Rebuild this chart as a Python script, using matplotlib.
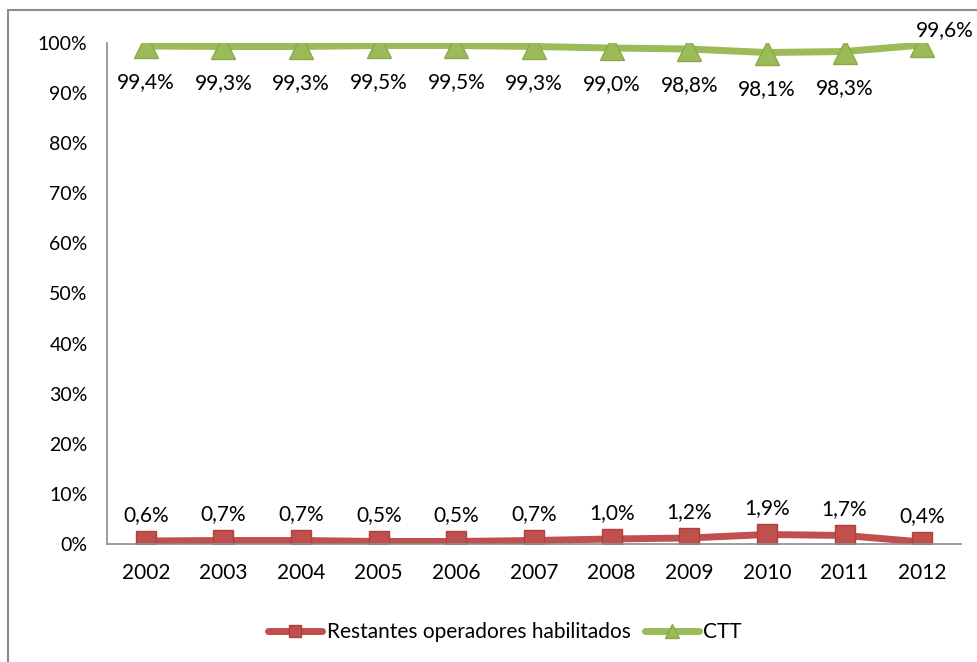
import matplotlib.pyplot as plt
from matplotlib.patches import Rectangle

plt.rcParams['font.family'] = ['Lato', 'DejaVu Sans']

years = ['2002', '2003', '2004', '2005', '2006', '2007', '2008', '2009', '2010', '2011', '2012']
outros = [0.6, 0.7, 0.7, 0.5, 0.5, 0.7, 1.0, 1.2, 1.9, 1.7, 0.4]
ctt = [99.4, 99.3, 99.3, 99.5, 99.5, 99.3, 99.0, 98.8, 98.1, 98.3, 99.6]
yticks = [0, 10, 20, 30, 40, 50, 60, 70, 80, 90, 100]

red = '#C0504D'
green = '#9BBB59'

fig = plt.figure(figsize=(9.78, 6.62), dpi=100)
ax = fig.add_axes([107 / 978, 1 - 544 / 662, (961 - 107) / 978, (544 - 43) / 662])

# outer chart frame (cut off on the right and bottom like the source)
fig.patches.append(Rectangle((8 / 978, -0.1), 1.2, 1 - 10 / 662 + 0.1,
                             transform=fig.transFigure, fill=False,
                             edgecolor='#8C8C8C', linewidth=1.5))

x = list(range(len(years)))
ax.plot(x, outros, color=red, linewidth=5, marker='s', markersize=15,
        markerfacecolor=red, markeredgecolor='#B0403D', markeredgewidth=1,
        label='Restantes operadores habilitados', solid_capstyle='round')
ax.plot(x, ctt, color=green, linewidth=5, marker='^', markersize=17,
        markerfacecolor=green, markeredgecolor='#8AAA48', markeredgewidth=1,
        label='CTT', solid_capstyle='round')

fs = 15
for i, v in enumerate(outros):
    ax.annotate(f'{v:.1f}%'.replace('.', ','), (i, v), xytext=(0, 19),
                textcoords='offset points', ha='center', va='center', fontsize=fs)
for i, v in enumerate(ctt):
    if i == len(ctt) - 1:
        off = (16, 11)
    else:
        off = (0, -26)
    ax.annotate(f'{v:.1f}%'.replace('.', ','), (i, v), xytext=off,
                textcoords='offset points', ha='center', va='center', fontsize=fs)

ax.set_xlim(-0.5, len(years) - 0.5)
ax.set_ylim(0, 100)
ax.set_xticks(x)
ax.set_xticklabels(years, fontsize=fs)
ax.set_yticks(yticks)
ax.set_yticklabels([f'{t}%' for t in yticks], fontsize=14)
ax.tick_params(length=0, pad=14)
ax.tick_params(axis='x', pad=14)
for s in ['top', 'right']:
    ax.spines[s].set_visible(False)
for s in ['left', 'bottom']:
    ax.spines[s].set_color('#8C8C8C')
    ax.spines[s].set_linewidth(1.2)

leg = fig.legend(loc='center', bbox_to_anchor=(505 / 978, 1 - 632 / 662), ncol=2,
                 frameon=False, fontsize=fs, handlelength=2.6, columnspacing=0.7,
                 handletextpad=0.2, markerscale=0.6)

fig.savefig('out.png', dpi=100)
